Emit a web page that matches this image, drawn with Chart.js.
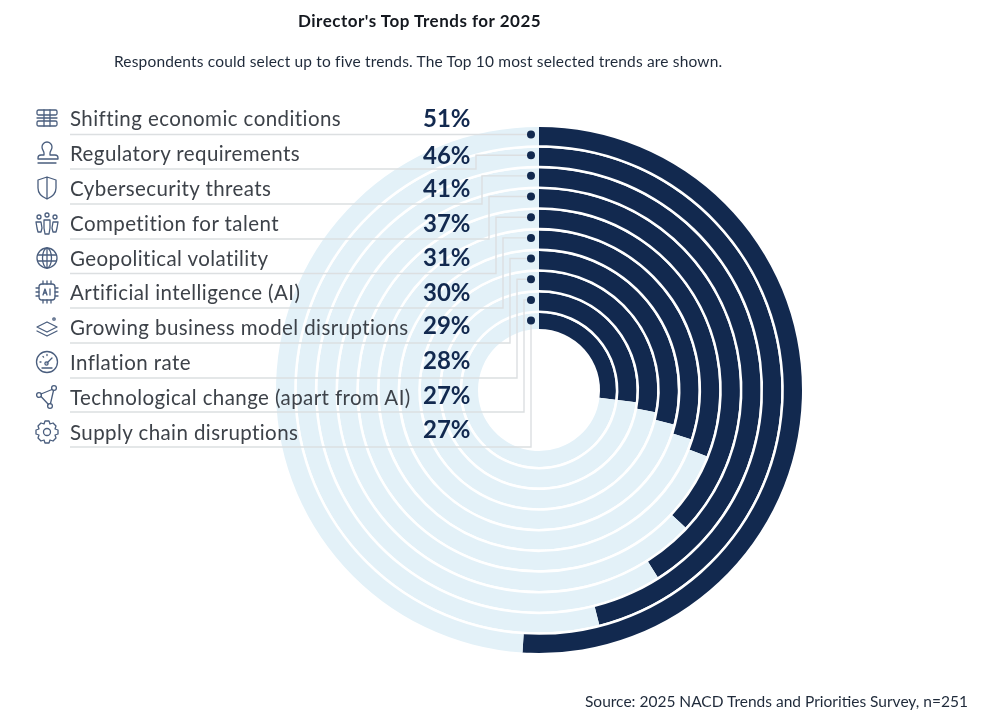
<!DOCTYPE html>
<html>
<head>
<meta charset="utf-8">
<title>Director's Top Trends for 2025</title>
<script src="https://cdn.jsdelivr.net/npm/chart.js@4"></script>
<style>
    html, body { margin: 0; padding: 0; background: #fff; }
    #page { position: relative; width: 984px; height: 718px; overflow: hidden; font-family: Lato, sans-serif; }
    #page canvas { position: absolute; left: 0; top: 0; }
    .txt { position: absolute; white-space: nowrap; line-height: 1; }
    #title { left: 298px; top: 12px; font-size: 17px; font-weight: 700; letter-spacing: .5px; color: #14181f; }
    #subtitle { left: 114px; top: 54px; font-size: 15.5px; letter-spacing: .16px; color: #1f2a3a; }
    #source { left: 585px; top: 694px; font-size: 15.5px; color: #1f2a3a; }
    .label { left: 70px; font-size: 20.5px; color: #3d4249; letter-spacing: .42px; }
    .pct { left: 423px; font-size: 24px; font-weight: 700; color: #12294f; }
    .icon { position: absolute; left: 33px; width: 28px; height: 28px; fill: none; stroke: #4a5e7e; stroke-width: 1.3; stroke-linecap: round; stroke-linejoin: round; }
</style>
</head>
<body>
<div id="page">
    <canvas id="myChart" width="984" height="718"></canvas>
    <div class="txt" id="title">Director's Top Trends for 2025</div>
    <div class="txt" id="subtitle">Respondents could select up to five trends. The Top 10 most selected trends are shown.</div>
    <div class="txt" id="source">Source: 2025 NACD Trends and Priorities Survey, n=251</div>
</div>
<script>
const categories = [
    'Shifting economic conditions',
    'Regulatory requirements',
    'Cybersecurity threats',
    'Competition for talent',
    'Geopolitical volatility',
    'Artificial intelligence (AI)',
    'Growing business model disruptions',
    'Inflation rate',
    'Technological change (apart from AI)',
    'Supply chain disruptions'
];
const percentages = [51, 46, 41, 37, 31, 30, 29, 28, 27, 27];

const icons = [
    '<rect x="4" y="6" width="20" height="5" rx="1.5"/><rect x="4" y="17" width="20" height="5" rx="1.5"/><path d="M4 14h20M11 6v16M17 6v16"/>',
    '<path d="M11 14c0-2-2-3-2-6a5 5 0 0 1 10 0c0 3-2 4-2 6v2h5a3 3 0 0 1 3 3v1H5v-1a3 3 0 0 1 3-3h3zM5 24h18"/>',
    '<path d="M14 3l9 3v8c0 6-4 9-9 11-5-2-9-5-9-11V6zM14 3v22"/>',
    '<circle cx="14" cy="6" r="2"/><circle cx="6" cy="8" r="2"/><circle cx="22" cy="8" r="2"/><path d="M11 11h6v8l-1 6h-4l-1-6zM3 13h5l1 6-1 4H5l-1-4zM25 13h-5l-1 6 1 4h3l1-4z"/>',
    '<circle cx="14" cy="14" r="10"/><ellipse cx="14" cy="14" rx="4.5" ry="10"/><path d="M4.5 11h19M4.5 17h19M14 4v20"/>',
    '<rect x="6" y="6" width="16" height="16" rx="3"/><path d="M10 3v3M14 3v3M18 3v3M10 22v3M14 22v3M18 22v3M3 10h3M3 14h3M3 18h3M22 10h3M22 14h3M22 18h3M10 17l2-6 2 6M11 15h2M17 11v6"/>',
    '<path d="M14 9l10 5-10 5-10-5zM4 18l10 5 10-5"/><circle cx="21" cy="6" r="1.2"/>',
    '<circle cx="14" cy="14" r="10.5"/><path d="M14 15l5-5M7 14h1M10 8.5l.6.6M14 6.5v1"/><circle cx="13.5" cy="15.5" r="1.6"/><path d="M9 20h10"/>',
    '<circle cx="21" cy="5" r="2.4"/><circle cx="6" cy="12" r="2.4"/><circle cx="17" cy="23" r="2.4"/><path d="M19 6.5L8 11M8 13.5l7.5 8M20.5 7.5L17.5 20.5"/>',
    '<circle cx="14" cy="14" r="3.5"/><path d="M12 3h4l1 3 3-1 3 3-1 3 3 1v4l-3 1 1 3-3 3-3-1-1 3h-4l-1-3-3 1-3-3 1-3-3-1v-4l3-1-1-3 3-3 3 1z"/>'
];

const navy = '#12294f';
const lightBlue = '#e3f1f8';
const ruleGrey = '#dcdfe1';
const ringWeight = 18.15;
const innerRingWeight = 15.9;
const gapWeight = 2.5;

// row rules under the labels, and the x of each elbow going up to its dot
const rowRuleY = [134.5, 169, 204, 239, 273.5, 308, 343, 378, 412, 447];
const elbowX = [531, 476, 482, 489, 496, 503, 510, 517, 524, 531];
const labelY = [119, 154, 189, 224, 259, 293, 328, 363, 398, 433];
const pctY = [118, 155, 188, 223, 257, 292, 325, 360, 395, 429];
const dotX = 531;

const datasets = [];
percentages.forEach((value, i) => {
    const last = i === percentages.length - 1;
    datasets.push({
        label: categories[i],
        data: [value, 100 - value],
        backgroundColor: [navy, lightBlue],
        borderWidth: 0,
        weight: last ? innerRingWeight : ringWeight
    });
    if (!last) {
        // thin white ring between two bars
        datasets.push({ data: [100], backgroundColor: ['#ffffff'], borderWidth: 0, weight: gapWeight });
    }
});

const leaderLines = {
    id: 'leaderLines',
    afterDraw(chart) {
        const ctx = chart.ctx;
        ctx.save();
        percentages.forEach((value, i) => {
            const arc = chart.getDatasetMeta(i * 2).data[0];
            // dots sit on the top edge rhythm of the rings, the short inner ring included
            const dotY = arc.y - arc.outerRadius + 7.5;

            ctx.strokeStyle = ruleGrey;
            ctx.lineWidth = 1.4;
            ctx.beginPath();
            ctx.moveTo(70, rowRuleY[i]);
            ctx.lineTo(elbowX[i], rowRuleY[i]);
            ctx.lineTo(elbowX[i], dotY);
            ctx.lineTo(dotX, dotY);
            ctx.stroke();

            ctx.fillStyle = navy;
            ctx.beginPath();
            ctx.arc(dotX, dotY, 4, 0, Math.PI * 2);
            ctx.fill();
        });
        ctx.restore();
    }
};

new Chart(document.getElementById('myChart').getContext('2d'), {
    type: 'doughnut',
    data: { labels: ['Selected', 'Not selected'], datasets: datasets },
    options: {
        responsive: false,
        animation: false,
        cutout: 61,
        layout: { padding: { left: 276, right: 182, top: 127, bottom: 65 } },
        plugins: { legend: { display: false }, tooltip: { enabled: false } }
    },
    plugins: [leaderLines]
});

const page = document.getElementById('page');
categories.forEach((name, i) => {
    const label = document.createElement('div');
    label.className = 'txt label';
    label.textContent = name;
    label.style.top = (labelY[i] - 11) + 'px';
    page.appendChild(label);

    const pct = document.createElement('div');
    pct.className = 'txt pct';
    pct.textContent = percentages[i] + '%';
    pct.style.top = (pctY[i] - 12) + 'px';
    page.appendChild(pct);

    page.insertAdjacentHTML('beforeend',
        `<svg class="icon" viewBox="0 0 28 28" style="top:${labelY[i] - 15}px">${icons[i]}</svg>`);
});
</script>
</body>
</html>
